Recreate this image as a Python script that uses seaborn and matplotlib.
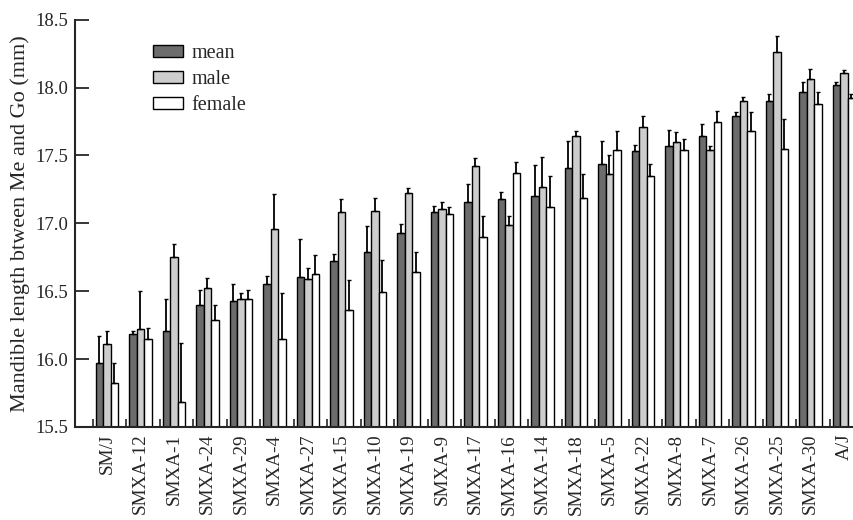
import numpy as np
import pandas as pd
import matplotlib
matplotlib.use("Agg")
import matplotlib.pyplot as plt
import seaborn as sns
from matplotlib.patches import Patch
from matplotlib.ticker import FixedLocator

strains = ["SM/J", "SMXA-12", "SMXA-1", "SMXA-24", "SMXA-29", "SMXA-4", "SMXA-27",
           "SMXA-15", "SMXA-10", "SMXA-19", "SMXA-9", "SMXA-17", "SMXA-16", "SMXA-14",
           "SMXA-18", "SMXA-5", "SMXA-22", "SMXA-8", "SMXA-7", "SMXA-26", "SMXA-25",
           "SMXA-30", "A/J"]

mean_vals = [15.97, 16.185, 16.21, 16.40, 16.43, 16.55, 16.605, 16.72, 16.79, 16.93, 17.08,
             17.16, 17.18, 17.20, 17.41, 17.44, 17.53, 17.57, 17.64, 17.79, 17.905, 17.97, 18.02]
mean_err = [0.20, 0.02, 0.23, 0.11, 0.12, 0.06, 0.28, 0.055, 0.19, 0.065, 0.05,
            0.13, 0.05, 0.23, 0.20, 0.17, 0.05, 0.12, 0.09, 0.03, 0.045, 0.07, 0.02]

male_vals = [16.11, 16.22, 16.755, 16.52, 16.44, 16.957, 16.59, 17.08, 17.09, 17.22, 17.105,
             17.42, 16.99, 17.27, 17.64, 17.365, 17.71, 17.60, 17.54, 17.905, 18.26, 18.06, 18.11]
male_err = [0.10, 0.28, 0.095, 0.08, 0.05, 0.26, 0.08, 0.10, 0.10, 0.04, 0.055,
            0.06, 0.065, 0.22, 0.04, 0.135, 0.08, 0.07, 0.03, 0.025, 0.12, 0.08, 0.02]

female_vals = [15.82, 16.15, 15.68, 16.29, 16.44, 16.15, 16.625, 16.36, 16.495, 16.64, 17.07,
               16.90, 17.37, 17.12, 17.185, 17.54, 17.35, 17.54, 17.75, 17.68, 17.55, 17.88, 17.92]
female_err = [0.15, 0.08, 0.44, 0.11, 0.07, 0.34, 0.145, 0.22, 0.235, 0.15, 0.05,
              0.155, 0.08, 0.23, 0.175, 0.14, 0.09, 0.08, 0.08, 0.14, 0.22, 0.09, 0.03]

series = ["mean", "male", "female"]
colors = {"mean": "#6c6c6c", "male": "#cdcdcd", "female": "#ffffff"}

df = pd.concat([
    pd.DataFrame({"strain": strains, "group": s, "value": v, "err": e})
    for s, v, e in [("mean", mean_vals, mean_err), ("male", male_vals, male_err),
                    ("female", female_vals, female_err)]
], ignore_index=True)

sns.set_style("ticks")
plt.rcParams["font.family"] = ["Liberation Serif", "DejaVu Serif"]

fig = plt.figure(figsize=(8.54, 5.2), dpi=100)
ax = fig.add_axes([0.088, 0.179, 0.912, 0.783])

sns.barplot(data=df, x="strain", y="value", hue="group", hue_order=series,
            palette=colors, width=0.67, gap=0, edgecolor="black", linewidth=1.0,
            errorbar=None, legend=False, ax=ax)

for cont, s in zip(ax.containers, series):
    sub = df[df["group"] == s]
    xs = [p.get_x() + p.get_width() / 2 for p in cont.patches]
    ys = sub["value"].to_numpy()
    es = sub["err"].to_numpy()
    ax.errorbar(xs, ys, yerr=[np.zeros_like(es), es], fmt="none", ecolor="black",
                elinewidth=1.3, capsize=1.5, capthick=1.0, zorder=3)

ax.set_ylim(15.5, 18.5)
ax.set_xlim(-0.95, len(strains) - 0.7)
ax.set_yticks([15.5, 16.0, 16.5, 17.0, 17.5, 18.0, 18.5])
ax.set_yticklabels(["15.5", "16.0", "16.5", "17.0", "17.5", "18.0", "18.5"])
ax.tick_params(axis="y", direction="in", length=10, width=1.3, labelsize=13.5, pad=5)
ax.tick_params(axis="x", which="major", length=0, labelsize=13.8, rotation=90, pad=5)
ax.xaxis.set_minor_locator(FixedLocator(np.arange(len(strains)) - 0.43))
ax.tick_params(axis="x", which="minor", direction="in", length=6, width=1.2)
ax.set_xlabel("")
ax.set_ylabel("Mandible length btween Me and Go (mm)", fontsize=16, labelpad=4)

for sp in ["top", "right"]:
    ax.spines[sp].set_visible(False)
ax.spines["left"].set_linewidth(1.5)
ax.spines["bottom"].set_linewidth(1.5)

handles = [Patch(facecolor=colors[s], edgecolor="black", linewidth=1.0, label=s) for s in series]
ax.legend(handles=handles, loc="upper left", bbox_to_anchor=(0.077, 0.985), frameon=False,
          fontsize=14.5, handlelength=1.5, handleheight=0.55, labelspacing=0.35,
          handletextpad=0.4, borderpad=0.4)

fig.savefig("out.png", dpi=100)
